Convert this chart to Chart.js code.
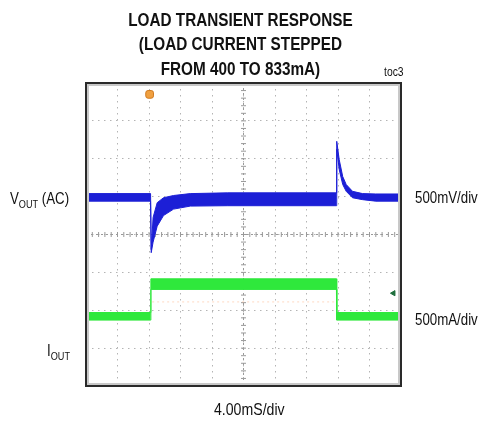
<!DOCTYPE html>
<html>
<head>
<meta charset="utf-8">
<script src="https://cdn.jsdelivr.net/npm/chart.js@4.4.1/dist/chart.umd.min.js"></script>
<style>
  body { margin: 0; background: #fff; }
  #wrap { position: relative; width: 481px; height: 421px; font-family: "Liberation Sans", Arial, sans-serif; color: #111; overflow: hidden; }
  #wrap canvas { position: absolute; left: 0; top: 0; }
  .lbl { position: absolute; font-size: 16px; line-height: 1; white-space: nowrap; transform: scaleX(0.83); transform-origin: 0 0; }
  .lbl sub { font-size: 11px; vertical-align: baseline; position: relative; top: 4px; }
  #title { position: absolute; left: 0; top: 8px; width: 481px; text-align: center; font-weight: bold; font-size: 18px; line-height: 24.3px; transform: scaleX(0.85); transform-origin: 240px 0; }
</style>
</head>
<body>
<div id="wrap">
  <canvas id="scope" width="481" height="421"></canvas>
  <div id="title"></div>
  <div class="lbl" style="left:384px;top:66px;font-size:12.5px;">toc3</div>
  <div class="lbl" style="left:10px;top:191px;">V<sub>OUT</sub> (AC)</div>
  <div class="lbl" style="left:47px;top:343px;">I<sub>OUT</sub></div>
  <div class="lbl" style="left:415px;top:190px;">500mV/div</div>
  <div class="lbl" style="left:415px;top:312px;">500mA/div</div>
  <div class="lbl" style="left:214px;top:401px;font-size:17px;">4.00mS/div</div>
</div>
<script>
// time in divisions (10 across), amplitude in divisions (8 high)
const titleLines = ["LOAD TRANSIENT RESPONSE", "(LOAD CURRENT STEPPED", "FROM 400 TO 833mA)"];

// VOUT (AC) trace, upper and lower edge of the noisy band
const voutT  = [0, 2.05, 2.07, 2.13, 2.26, 2.46, 2.78, 3.31, 4.5, 7.95, 7.96, 8.04, 8.15, 8.26, 8.46, 8.78, 9.2, 10];
const voutHi = [5.08, 5.08, 3.60, 4.45, 4.84, 4.97, 5.03, 5.08, 5.10, 5.10, 6.46, 5.97, 5.53, 5.32, 5.14, 5.08, 5.07, 5.07];
const voutLo = [4.88, 4.88, 3.52, 3.80, 4.22, 4.50, 4.67, 4.75, 4.76, 4.76, 6.25, 5.71, 5.32, 5.14, 4.97, 4.92, 4.88, 4.88];

// IOUT trace
const ioutT  = [0, 2.05, 2.06, 7.95, 7.96, 10];
const ioutHi = [1.94, 1.94, 2.83, 2.83, 1.94, 1.94];
const ioutLo = [1.74, 1.74, 2.55, 2.55, 1.74, 1.74];

// faint trigger level line and screen markers
const trigLevelT = [2.1, 7.9];
const trigLevelY = [2.22, 2.22];
const trigMark = [{ x: 2.02, y: 7.7 }];
const ch2Mark = [{ x: 9.76, y: 2.45 }];

document.getElementById("title").innerHTML = titleLines.join("<br>");

const toPts = (xs, ys) => xs.map((x, i) => ({ x: x, y: ys[i] }));

const blue = "#1c1fd6";
const green = "#2fe83c";

// frame and center graticule with minor ticks
const scopeFrame = {
  id: "scopeFrame",
  beforeDatasetsDraw(chart) {
    const { ctx, chartArea: a, scales } = chart;
    const cx = scales.x.getPixelForValue(5);
    const cy = scales.y.getPixelForValue(4);
    ctx.save();
    ctx.strokeStyle = "#9a9a9a";
    ctx.lineWidth = 1;
    ctx.setLineDash([2, 3]);
    ctx.beginPath();
    ctx.moveTo(cx, a.top); ctx.lineTo(cx, a.bottom);
    ctx.moveTo(a.left, cy); ctx.lineTo(a.right, cy);
    ctx.stroke();
    ctx.setLineDash([]);
    ctx.beginPath();
    for (let v = 0; v <= 10.001; v += 0.2) {
      const px = scales.x.getPixelForValue(v);
      ctx.moveTo(px, cy - 2.5); ctx.lineTo(px, cy + 2.5);
    }
    for (let v = 0; v <= 8.001; v += 0.2) {
      const py = scales.y.getPixelForValue(v);
      ctx.moveTo(cx - 2.5, py); ctx.lineTo(cx + 2.5, py);
    }
    ctx.stroke();
    ctx.restore();
  },
  afterDraw(chart) {
    const { ctx, chartArea: a } = chart;
    ctx.save();
    ctx.strokeStyle = "#c8c8c8";
    ctx.lineWidth = 2;
    ctx.strokeRect(a.left + 2, a.top + 2, a.right - a.left - 4, a.bottom - a.top - 4);
    ctx.strokeStyle = "#2a2a2a";
    ctx.lineWidth = 2;
    ctx.strokeRect(a.left, a.top, a.right - a.left, a.bottom - a.top);
    ctx.restore();
  }
};

new Chart(document.getElementById("scope"), {
  type: "line",
  data: {
    datasets: [
      { data: toPts(voutT, voutHi), borderColor: blue, backgroundColor: blue, borderWidth: 1, pointRadius: 0, fill: "+1", tension: 0 },
      { data: toPts(voutT, voutLo), borderColor: blue, backgroundColor: blue, borderWidth: 1, pointRadius: 0, fill: false, tension: 0 },
      { data: toPts(ioutT, ioutHi), borderColor: green, backgroundColor: green, borderWidth: 1, pointRadius: 0, fill: "+1", tension: 0 },
      { data: toPts(ioutT, ioutLo), borderColor: green, backgroundColor: green, borderWidth: 1, pointRadius: 0, fill: false, tension: 0 },
      { data: toPts(trigLevelT, trigLevelY), borderColor: "rgba(255,170,120,0.45)", borderWidth: 1, borderDash: [2, 3], pointRadius: 0, fill: false },
      { type: "scatter", data: trigMark, pointStyle: "rectRounded", pointRadius: 4.5, backgroundColor: "#f0a040", borderColor: "#d07a20", borderWidth: 1 },
      { type: "scatter", data: ch2Mark, pointStyle: "triangle", rotation: -90, pointRadius: 3, backgroundColor: "#1d6e3c", borderColor: "#1d6e3c" }
    ]
  },
  options: {
    responsive: false,
    animation: false,
    layout: { padding: { left: 86, right: 80, bottom: 35, top: 83 } },
    scales: {
      x: {
        type: "linear", min: 0, max: 10,
        ticks: { display: false, stepSize: 1 },
        grid: { color: "#b4b4b4", lineWidth: 1, drawTicks: false },
        border: { display: false, dash: [1.5, 4.5] }
      },
      y: {
        type: "linear", min: 0, max: 8,
        ticks: { display: false, stepSize: 1 },
        grid: { color: "#b4b4b4", lineWidth: 1, drawTicks: false },
        border: { display: false, dash: [1.5, 4.5] }
      }
    },
    plugins: {
      legend: { display: false },
      tooltip: { enabled: false },
      title: { display: false }
    }
  },
  plugins: [scopeFrame]
});
</script>
</body>
</html>
